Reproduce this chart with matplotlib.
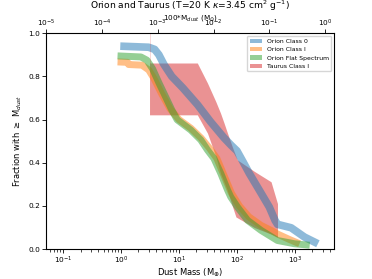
import matplotlib
matplotlib.use('Agg')
import matplotlib.pyplot as plt
from matplotlib.patches import Patch

# Orion Class 0 (center of band)
c0_mass = [0.97, 3.0, 3.8, 4.5, 5.5, 7.5, 11.7, 21, 35, 60, 80, 100, 130, 163, 243, 361, 454, 500, 860, 1460, 2490]
c0_frac = [0.94, 0.935, 0.925, 0.90, 0.855, 0.80, 0.746, 0.668, 0.59, 0.515, 0.48, 0.455, 0.40, 0.351, 0.273, 0.195, 0.133, 0.115, 0.099, 0.056, 0.025]

# Orion Class I
c1_mass = [0.87, 1.3, 1.35, 2.3, 3.0, 3.7, 5.0, 7.0, 10, 16, 24, 33, 45, 60, 80, 110, 160, 260, 400, 500, 800, 1200]
c1_frac = [0.867, 0.865, 0.855, 0.852, 0.83, 0.79, 0.72, 0.65, 0.60, 0.56, 0.515, 0.47, 0.42, 0.34, 0.26, 0.20, 0.15, 0.11, 0.085, 0.07, 0.045, 0.025]

# Orion Flat Spectrum
fs_mass = [0.87, 2.2, 2.8, 3.5, 4.5, 6.0, 7.5, 9.3, 15.9, 23.7, 31, 40, 52.7, 69, 78, 102, 153, 260, 500, 980, 1800]
fs_frac = [0.895, 0.89, 0.875, 0.835, 0.77, 0.70, 0.645, 0.599, 0.552, 0.506, 0.459, 0.42, 0.35, 0.273, 0.242, 0.195, 0.133, 0.087, 0.04, 0.025, 0.018]

# Taurus Class I (range)
tau_mass = [3.1, 20.7, 31, 43, 52, 60, 68, 83, 96, 102, 200, 387, 500]
tau_hi = [0.862, 0.862, 0.769, 0.684, 0.63, 0.583, 0.54, 0.474, 0.43, 0.413, 0.36, 0.312, 0.211]
tau_lo = [0.622, 0.622, 0.537, 0.43, 0.35, 0.31, 0.273, 0.20, 0.149, 0.145, 0.10, 0.07, 0.056]

labels = ['Orion Class 0', 'Orion Class I', 'Orion Flat Spectrum', 'Taurus Class I']
colors = ['tab:blue', 'tab:orange', 'tab:green', 'tab:red']

fig = plt.figure(figsize=(3.72, 2.79), dpi=100)
ax = fig.add_axes([0.124, 0.107, 0.775, 0.774])

for m, f, c, w in zip([c0_mass, c1_mass, fs_mass], [c0_frac, c1_frac, fs_frac], colors[:3], [5.5, 5, 5]):
    ax.plot(m, f, color=c, alpha=0.5, lw=w, solid_capstyle='butt', solid_joinstyle='round')

ax.fill_between(tau_mass, tau_lo, tau_hi, color=colors[3], alpha=0.5, lw=0)
ax.plot([tau_mass[0], tau_mass[0]], [tau_hi[0], 1.0], color=colors[3], alpha=0.25, lw=0.5)

ax.set_xscale('log')
ax.set_xlim(0.051, 4800)
ax.set_ylim(0, 1)
ax.set_yticks([0, 0.2, 0.4, 0.6, 0.8, 1.0])
ax.set_xlabel(r'Dust Mass (M$_{\oplus}$)', fontsize=6, labelpad=0.5)
ax.set_ylabel(r'Fraction with $\geq$ M$_{dust}$', fontsize=6, labelpad=3)
ax.tick_params(which='major', labelsize=5.3, length=3, width=0.6, pad=1.2)
ax.tick_params(which='minor', length=1.8, width=0.5)
for s in ax.spines.values():
    s.set_linewidth(0.6)

handles = [Patch(facecolor=c, alpha=0.5, lw=0) for c in colors]
ax.legend(handles, labels, loc='upper right', fontsize=4.4, borderaxespad=0.5)

ax2 = ax.twiny()
ax2.set_xscale('log')
ax2.set_xlim(1e-5, 1.47)
ax2.xaxis.set_minor_locator(matplotlib.ticker.NullLocator())
ax2.tick_params(which='major', labelsize=5.3, length=2.8, width=0.6, pad=0.3)
ax2.set_xlabel(r'100*M$_{dust}$ (M$_{\odot}$)', fontsize=5.2, labelpad=-1.4)
ax2.set_title(r'Orion and Taurus (T=20 K $\kappa$=3.45 cm$^{2}$ g$^{-1}$)', fontsize=6.6, pad=0.2)

fig.savefig('out.png', dpi=100)
